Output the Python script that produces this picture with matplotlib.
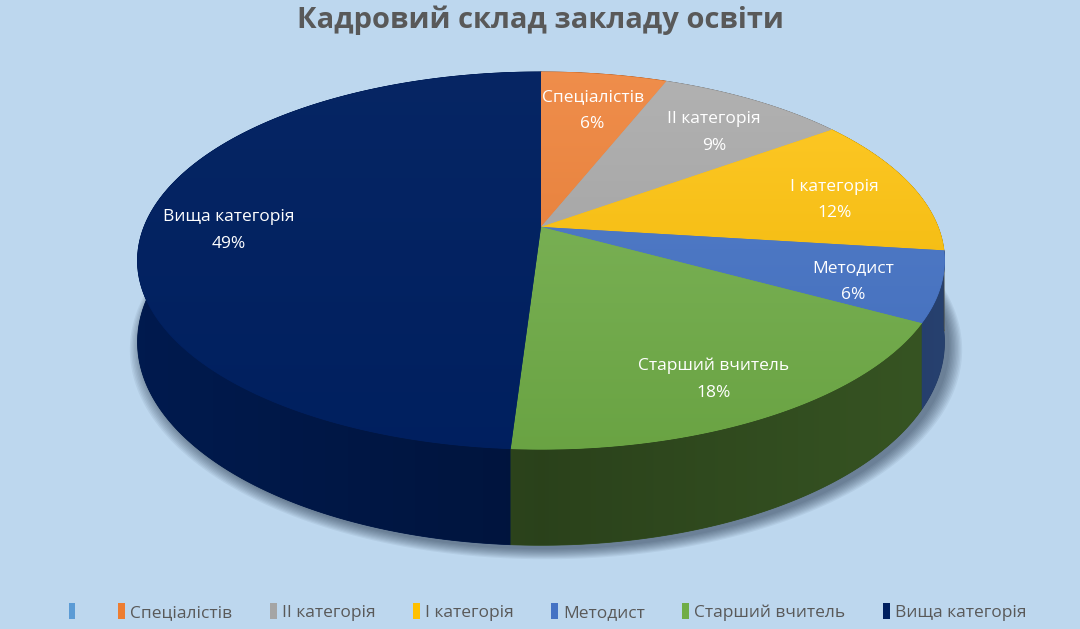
import matplotlib
matplotlib.use("Agg")
import matplotlib.pyplot as plt
import numpy as np
from matplotlib.patches import Polygon, Patch
from matplotlib.colors import to_rgb

# data
categories = ["", "Спеціалістів", "ІІ категорія", "І категорія", "Методист",
              "Старший вчитель", "Вища категорія"]
values = [0, 6, 9, 12, 6, 18, 49]
colors = ["#5B9BD5", "#ED7D31", "#A5A5A5", "#FFC000", "#4472C4", "#70AD47", "#002060"]
title = "Кадровий склад закладу освіти"

BG = "#BDD7EE"
TEXT = "#595959"

# pseudo 3d geometry (pixels)
CX, CY = 541, 227
RX, RY = 397, 182.6
P = 0.178
DEPTH = 79


def proj(r, t):
    u = r * np.cos(t)
    v = r * np.sin(t)
    w = 1 - P * v
    return CX + RX * u / w, CY + RY * v / w


def luma(c):
    r, g, b = to_rgb(c)
    return 0.299 * r + 0.587 * g + 0.114 * b


def lighten(c, a):
    c = np.array(to_rgb(c))
    return c + (1 - c) * a


plt.rcParams['font.family'] = ['Open Sans', 'DejaVu Sans']

fig = plt.figure(figsize=(10.8, 6.29), dpi=100, facecolor=BG)
ax = fig.add_axes([0, 0, 1, 1])
ax.set_xlim(0, 1080)
ax.set_ylim(629, 0)
ax.axis("off")
ax.set_facecolor(BG)

H, W = 629, 1080
total = sum(values)
fr = np.cumsum([0] + values) / total
angles = -np.pi / 2 + 2 * np.pi * fr

# drop shadow
tt = np.linspace(0, 2 * np.pi, 300)
bx, by = proj(1.0, tt)
by = by + DEPTH / (1 - P * np.sin(tt))
for k in range(10):
    s = 1 + 0.0035 * k
    ax.add_patch(Polygon(np.column_stack([CX + (bx - CX) * s + 5, CY + (by - CY) * s + 4]),
                         closed=True, facecolor="#102035", alpha=0.06, lw=0, zorder=1))

# side bands, shaded darker towards the front
xs = np.arange(W)
side_mult = 0.85 + 0.25 * np.clip(np.abs(xs - CX) / 400.0, 0, 1)
bands = []
for i in range(len(values)):
    if values[i] == 0:
        continue
    t = np.linspace(angles[i], angles[i + 1], 200)
    x, y = proj(1.0, t)
    yb = y + DEPTH / (1 - P * np.sin(t))
    pts = np.concatenate([np.column_stack([x, y]), np.column_stack([x[::-1], yb[::-1]])])
    bands.append((np.mean(np.sin(t)), pts, i))
bands.sort(key=lambda b: b[0])
for _, pts, i in bands:
    f = 0.35 + 0.5 * (1 - luma(colors[i])) ** 2
    base = np.array(to_rgb(colors[i])) * f
    poly = Polygon(pts, closed=True, facecolor=tuple(base), edgecolor=tuple(base),
                   lw=0.6, zorder=2)
    ax.add_patch(poly)
    img = np.clip(base[None, None, :] * side_mult[None, :, None], 0, 1)
    img = np.broadcast_to(img, (H, W, 3))
    im = ax.imshow(img, extent=[0, W, H, 0], zorder=2.5, interpolation="bilinear")
    im.set_clip_path(poly)

# top faces with vertical gradient
g = np.clip((np.arange(H) - 70) / 380.0, 0, 1)[:, None, None]
for i in range(len(values)):
    if values[i] == 0:
        continue
    t = np.linspace(angles[i], angles[i + 1], 200)
    x, y = proj(1.0, t)
    pts = np.vstack([[CX, CY], np.column_stack([x, y])])
    poly = Polygon(pts, closed=True, facecolor=colors[i], edgecolor=colors[i], lw=0.6, zorder=3)
    ax.add_patch(poly)
    lm = luma(colors[i])
    top = lighten(colors[i], 0.22 * lm)
    bot = np.array(to_rgb(colors[i])) * (1 - 0.1 * lm)
    img = top[None, None, :] * (1 - g) + bot[None, None, :] * g
    img = np.broadcast_to(img, (H, W, 3))
    im = ax.imshow(img, extent=[0, W, H, 0], zorder=4, interpolation="bilinear")
    im.set_clip_path(poly)

# labels
for i in range(len(values)):
    if values[i] == 0:
        continue
    mid = (angles[i] + angles[i + 1]) / 2
    lx, ly = proj(0.79, mid)
    ax.text(lx, ly + 8, f"{categories[i]}\n{values[i]}%", ha="center", va="center",
            color="white", fontsize=12.5, linespacing=1.85, zorder=6)

ax.text(540, 20, title, ha="center", va="center", fontsize=21, fontweight="bold",
        color=TEXT, zorder=6)

handles = [Patch(facecolor=c, edgecolor="none") for c in colors]
leg = fig.legend(handles, categories, loc="center", bbox_to_anchor=(0.507, 0.027), ncol=7,
                 frameon=False, fontsize=12.5, handlelength=0.4, handleheight=1.0,
                 handletextpad=0.3, columnspacing=2.15, labelcolor=TEXT)

fig.savefig("out.png", dpi=100, facecolor=BG)
